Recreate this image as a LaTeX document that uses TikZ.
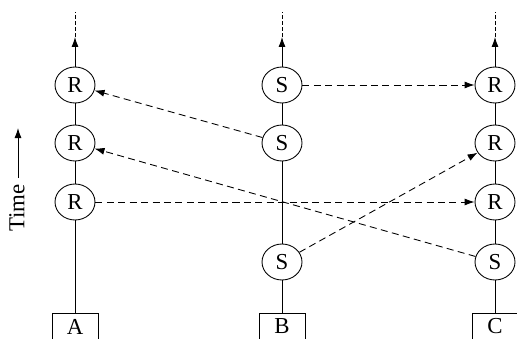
\documentclass[tikz,border=0pt]{standalone}
\usepackage{fontspec}
\setmainfont{Liberation Serif}
\usetikzlibrary{shapes.geometric,arrows.meta}
\tikzset{
	event/.style={draw, ellipse, minimum width=0.8cm, minimum height=0.72cm, inner sep=0pt, font=\fontsize{13}{14}\selectfont},
	proc/.style={draw, rectangle, minimum width=0.92cm, minimum height=0.54cm, inner sep=0pt, font=\fontsize{13}{14}\selectfont},
	msg/.style={dash pattern=on 4pt off 2.5pt, -{Latex[length=2mm,width=1.4mm]}},
	tl/.style={line width=0.5pt}
}
\begin{document}
\begin{tikzpicture}[x=0.02cm, y=-0.02cm, line width=0.5pt]
			\useasboundingbox (0,0) rectangle (517,338);
			\def\xa{75}
			\def\xb{282}
			\def\xc{495}
			
			%Process A
			\node[proc] (PA) at (\xa, 326.5) {A};
			\node[event] (A3) at (\xa, 202) {R};
			\node[event] (A2) at (\xa, 143) {R};
			\node[event] (A1) at (\xa, 85) {R};
			\coordinate (TA) at (\xa, 37);
			\coordinate (EA) at (\xa, 12);
			\draw (PA) -- (A3) (A3) -- (A2) (A2) -- (A1);
			\draw[-{Latex[length=2mm,width=1.4mm]}] (A1) -- (TA);
			\draw[dash pattern=on 2pt off 1.5pt] (TA) -- (EA);
			
			%Process B
			\node[proc] (PB) at (\xb, 326.5) {B};
			\node[event] (B4) at (\xb, 262) {S};
			\node[event] (B2) at (\xb, 143) {S};
			\node[event] (B1) at (\xb, 85) {S};
			\coordinate (TB) at (\xb, 37);
			\coordinate (EB) at (\xb, 12);
			\draw (PB) -- (B4) (B4) -- (B2) (B2) -- (B1);
			\draw[-{Latex[length=2mm,width=1.4mm]}] (B1) -- (TB);
			\draw[dash pattern=on 2pt off 1.5pt] (TB) -- (EB);
			
			%Process C
			\node[proc] (PC) at (\xc, 326.5) {C};
			\node[event] (C4) at (\xc, 262) {S};
			\node[event] (C3) at (\xc, 202) {R};
			\node[event] (C2) at (\xc, 143) {R};
			\node[event] (C1) at (\xc, 85) {R};
			\coordinate (TC) at (\xc, 37);
			\coordinate (EC) at (\xc, 12);
			\draw (PC) -- (C4) (C4) -- (C3) (C3) -- (C2) (C2) -- (C1);
			\draw[-{Latex[length=2mm,width=1.4mm]}] (C1) -- (TC);
			\draw[dash pattern=on 2pt off 1.5pt] (TC) -- (EC);
			
			%Messages
			\draw[msg] (B2) -- (A1);
			\draw[msg] (C4) -- (A2);
			\draw[msg] (A3) -- (C3);
			\draw[msg] (B1) -- (C1);
			\draw[msg] (B4) -- (C2);
			
			%Time axis
			\node[rotate=90, font=\fontsize{13}{14}\selectfont] (time) at (17, 208) {Time};
			\coordinate (T0) at (18, 178);
			\coordinate (T1) at (18, 128);
			\draw[-{Latex[length=2mm,width=1.4mm]}] (T0) -- (T1);
		\end{tikzpicture}
\end{document}
